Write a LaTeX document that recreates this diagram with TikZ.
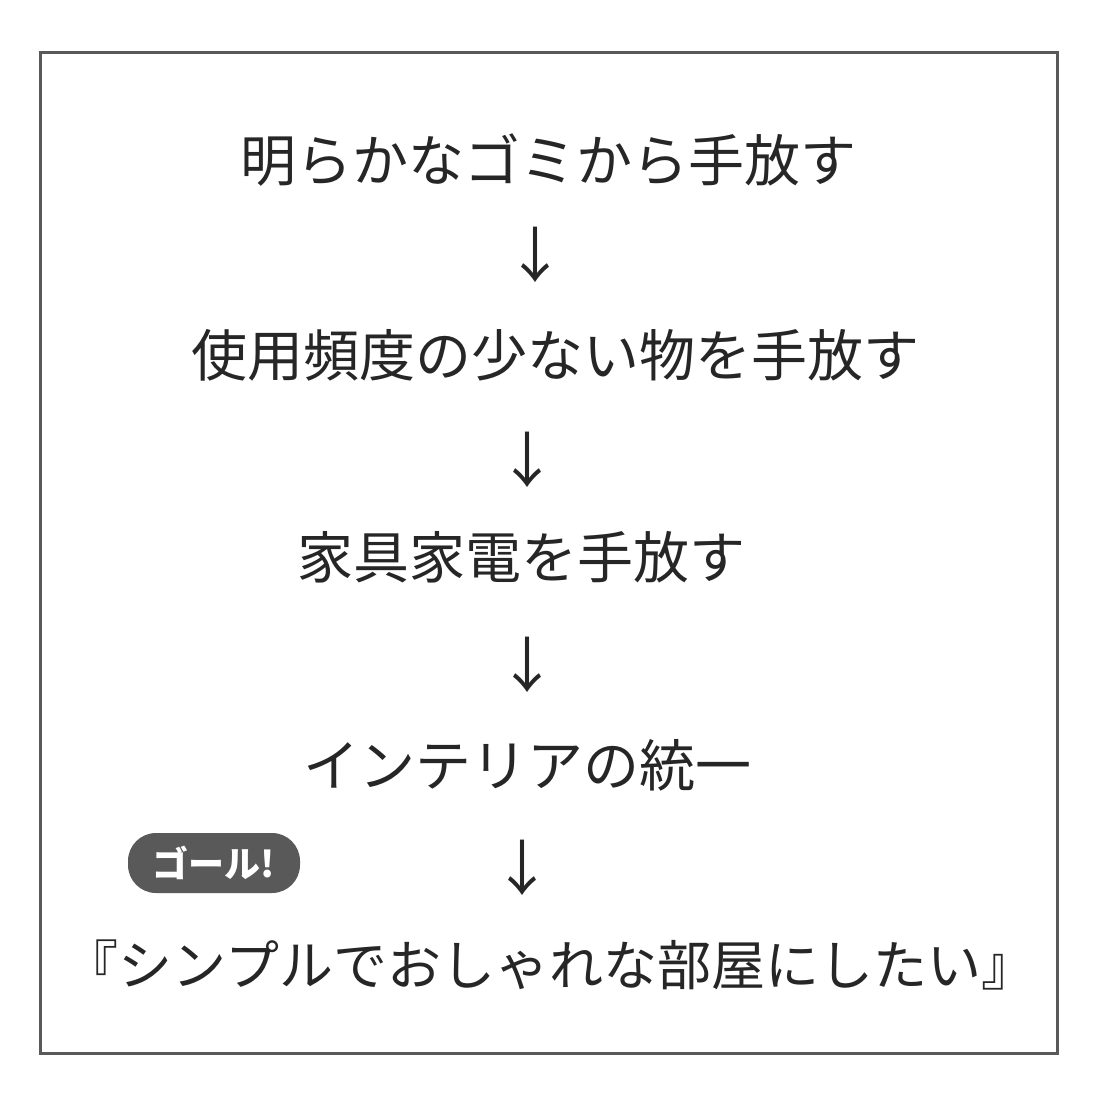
\documentclass[tikz,border=0pt]{standalone}
\usepackage{fontspec}
\setmainfont{Noto Sans CJK JP}
\begin{document}
\begin{tikzpicture}[x=1pt,y=-1pt,
  txt/.style={font=\fontsize{56}{60}\selectfont, text=black!85, inner sep=0},
  arr/.style={font=\fontsize{60}{64}\selectfont, text=black!85, inner sep=0}]
\useasboundingbox (0,0) rectangle (1093,1101);
\draw[line width=3, draw=black!65] (40,52) rectangle (1057,1053);
\node[txt] (t1) at (548,160) {明らかなゴミから手放す};
\node[arr] (a1) at (535,255) {↓};
\node[txt] (t2) at (555,355) {使用頻度の少ない物を手放す};
\node[arr] (a2) at (527,460) {↓};
\node[txt] (t3) at (521,557) {家具家電を手放す};
\node[arr] (a3) at (527,665) {↓};
\node[txt] (t4) at (527,765) {インテリアの統一};
\node[arr] (a4) at (522,868) {↓};
\node[txt, font=\fontsize{54}{60}\selectfont] (t5) at (550,965) {『シンプルでおしゃれな部屋にしたい』};
\node[fill=black!65, rounded corners=28, minimum width=172, minimum height=60, text=white, font=\fontsize{36}{40}\selectfont\bfseries, inner sep=0] (g) at (214,863) {ゴール!};
\end{tikzpicture}
\end{document}
